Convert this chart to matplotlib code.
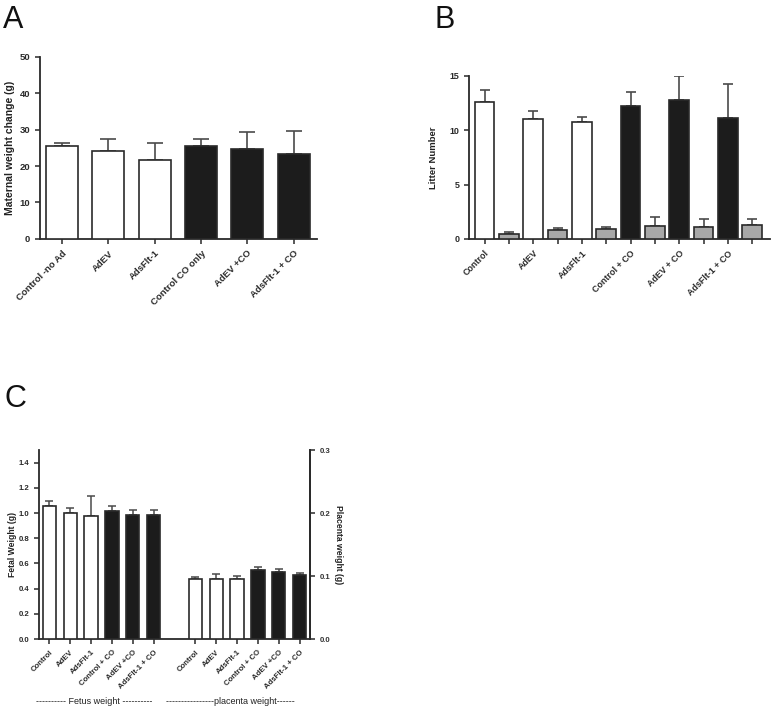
import numpy as np
import matplotlib
matplotlib.use("Agg")
import matplotlib.pyplot as plt

plt.rcParams["font.family"] = ["Liberation Sans", "DejaVu Sans"]

# ---- Panel A: maternal weight change ----
a_labels = ["Control -no Ad", "AdEV", "AdsFlt-1", "Control CO only", "AdEV +CO", "AdsFlt-1 + CO"]
a_mean = [25.4, 24.0, 21.7, 25.6, 24.6, 23.3]
a_sem = [0.8, 3.4, 4.6, 1.9, 4.8, 6.4]
a_dark = [False, False, False, True, True, True]

# ---- Panel B: litter number (main bars) and grey bars in between ----
b_labels = ["Control", "AdEV", "AdsFlt-1", "Control + CO", "AdEV + CO", "AdsFlt-1 + CO"]
b_main = [12.6, 11.0, 10.8, 12.25, 12.75, 11.1]
b_main_err = [1.1, 0.8, 0.45, 1.25, 2.2, 3.15]
b_grey = [0.43, 0.80, 0.89, 1.23, 1.13, 1.32]
b_grey_err = [0.24, 0.24, 0.24, 0.76, 0.67, 0.55]
b_dark = [False, False, False, True, True, True]

# ---- Panel C: fetal and placenta weight ----
c_labels = ["Control", "AdEV", "AdsFlt-1", "Control + CO", "AdEV +CO", "AdsFlt-1 + CO"]
fetal = [1.056, 0.998, 0.976, 1.016, 0.982, 0.982]
fetal_err = [0.042, 0.045, 0.160, 0.037, 0.039, 0.045]
placenta = [0.0952, 0.0952, 0.0958, 0.1095, 0.1063, 0.1010]
placenta_err = [0.0040, 0.0074, 0.0047, 0.0053, 0.0043, 0.0032]
c_dark = [False, False, False, True, True, True]

EDGE = "#2a2a2a"
BLACK = "#1c1c1c"
GREY = "#a8a8a8"
ERRC = "#4a4a4a"


def style_axes(ax, right=False):
    for s in ["top", "right"]:
        ax.spines[s].set_visible(False)
    for s in ["left", "bottom"]:
        ax.spines[s].set_color(EDGE)
        ax.spines[s].set_linewidth(1.3)
    if right:
        ax.spines["right"].set_visible(True)
        ax.spines["right"].set_color(EDGE)
        ax.spines["right"].set_linewidth(1.3)
    ax.tick_params(axis="both", colors=EDGE, width=1.1, length=3.5)


def bars(ax, x, h, err, dark, width, capsize, fill_light="white", errlw=1.2):
    colors = [BLACK if d else fill_light for d in dark]
    ax.bar(x, h, width=width, color=colors, edgecolor=EDGE, linewidth=1.2, zorder=3)
    ax.errorbar(x, h, yerr=[np.zeros(len(h)), err], fmt="none", ecolor=ERRC,
                elinewidth=errlw, capsize=capsize, capthick=errlw, zorder=2)


fig = plt.figure(figsize=(7.73, 7.09), dpi=100)

# Panel A
axA = fig.add_axes([0.0517, 0.663, 0.358, 0.257])
xa = np.arange(len(a_labels))
bars(axA, xa, a_mean, a_sem, a_dark, 0.69, 5.7)
axA.set_xlim(-0.48, 5.5)
axA.set_ylim(0, 50)
axA.set_yticks([0, 10, 20, 30, 40, 50])
axA.set_xticks(xa)
axA.set_xticklabels(a_labels, rotation=45, ha="right", rotation_mode="anchor",
                    fontsize=6.8, fontweight="bold", color="#333333")
for t in axA.get_yticklabels():
    t.set_fontsize(6.8); t.set_fontweight("bold"); t.set_color("#333333")
axA.set_ylabel("Maternal weight change (g)", fontsize=7.5, fontweight="bold", color="#222222")
axA.yaxis.set_label_coords(-0.09, 0.5)
style_axes(axA)

# Panel B
axB = fig.add_axes([0.6067, 0.663, 0.389, 0.23])
pos_main = np.arange(6) * 2
pos_grey = pos_main + 1
bars(axB, pos_main, b_main, b_main_err, b_dark, 0.8, 3.6)
axB.bar(pos_grey, b_grey, width=0.8, color=GREY, edgecolor=EDGE, linewidth=1.2, zorder=3)
axB.errorbar(pos_grey, b_grey, yerr=[np.zeros(6), b_grey_err], fmt="none", ecolor=ERRC,
             elinewidth=1.2, capsize=3.6, capthick=1.2, zorder=2)
axB.set_xlim(-0.64, 11.72)
axB.set_ylim(0, 15)
axB.set_yticks([0, 5, 10, 15])
all_pos = np.arange(12)
axB.set_xticks(all_pos)
axB.set_xticklabels([b_labels[i // 2] if i % 2 == 0 else "" for i in all_pos],
                    rotation=45, ha="right", rotation_mode="anchor",
                    fontsize=6.4, fontweight="bold", color="#333333")
for t in axB.get_yticklabels():
    t.set_fontsize(6.4); t.set_fontweight("bold"); t.set_color("#333333")
axB.set_ylabel("Litter Number", fontsize=6.8, fontweight="bold", color="#222222")
axB.yaxis.set_label_coords(-0.103, 0.5)
style_axes(axB)

# Panel C
axC = fig.add_axes([0.0505, 0.0987, 0.3505, 0.2666])
xf = np.arange(6)
xp = np.arange(6) + 7
bars(axC, xf, fetal, fetal_err, c_dark, 0.64, 2.9, errlw=1.1)
axC.set_xlim(-0.5, 12.5)
axC.set_ylim(0, 1.5)
axC.set_yticks(np.arange(0, 1.41, 0.2))
axC.set_yticklabels([f"{v:.1f}" for v in np.arange(0, 1.41, 0.2)])
axC.set_xticks(np.concatenate([xf, xp]))
axC.set_xticklabels(c_labels + c_labels, rotation=45, ha="right", rotation_mode="anchor",
                    fontsize=5.6, fontweight="bold", color="#333333")
for t in axC.get_yticklabels():
    t.set_fontsize(5.6); t.set_fontweight("bold"); t.set_color("#333333")
axC.set_ylabel("Fetal Weight (g)", fontsize=6.2, fontweight="bold", color="#222222")
axC.yaxis.set_label_coords(-0.081, 0.5)
style_axes(axC, right=True)

axC2 = axC.twinx()
bars(axC2, xp, placenta, placenta_err, c_dark, 0.64, 2.9, errlw=1.1)
axC2.set_ylim(0, 0.3)
axC2.set_yticks([0.0, 0.1, 0.2, 0.3])
axC2.set_yticklabels(["0.0", "0.1", "0.2", "0.3"])
for s in ["top", "left", "bottom"]:
    axC2.spines[s].set_visible(False)
axC2.spines["right"].set_color(EDGE)
axC2.spines["right"].set_linewidth(1.3)
axC2.tick_params(axis="y", colors=EDGE, width=1.1, length=3.5)
for t in axC2.get_yticklabels():
    t.set_fontsize(5.6); t.set_fontweight("bold"); t.set_color("#333333")
axC2.set_ylabel("Placenta weight (g)", fontsize=6.2, fontweight="bold", color="#222222",
                rotation=270, va="bottom")
axC2.yaxis.set_label_coords(1.09, 0.5)

fig.text(94 / 773, 1 - 702 / 709, "---------- Fetus weight ----------", fontsize=6.5,
         ha="center", va="center", color="#222222")
fig.text(230 / 773, 1 - 702 / 709, "----------------placenta weight------", fontsize=6.5,
         ha="center", va="center", color="#222222")

# panel letters
fig.text(3 / 773, 1 - 28 / 709, "A", fontsize=22, color="#111111")
fig.text(434 / 773, 1 - 28 / 709, "B", fontsize=22, color="#111111")
fig.text(4 / 773, 1 - 407 / 709, "C", fontsize=22, color="#111111")

fig.savefig("out.png", dpi=100)
